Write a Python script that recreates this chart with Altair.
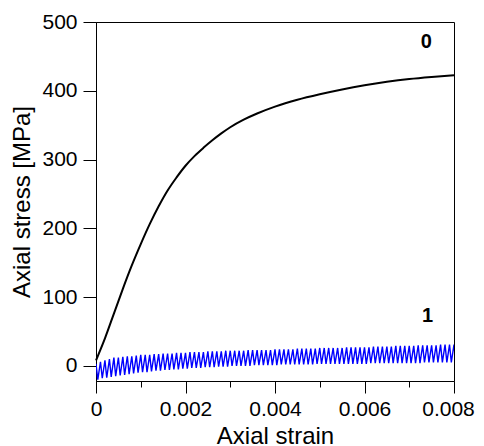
import altair as alt
import pandas as pd

# Monotonic (cycle 0) curve
strain0 = [0, 0.0002, 0.0004, 0.0006, 0.0008, 0.001, 0.0012, 0.0014, 0.0016, 0.0018,
           0.002, 0.0022, 0.0024, 0.0026, 0.0028, 0.003, 0.0033, 0.0036, 0.004, 0.0045,
           0.005, 0.0055, 0.006, 0.0065, 0.007, 0.0075, 0.008]
stress0 = [8, 40, 76, 112, 146, 177, 206, 232, 255, 274,
           291, 305, 317, 328, 338, 347, 358, 367, 377, 387,
           395, 402, 408, 413, 417, 420, 422.5]

# Cyclic curve (1): peak and trough stress of each cycle
cycle_step = 0.0001
peaks = [3, 6, 8, 10, 12, 12, 13, 14, 14, 15,
         16, 16, 16, 17, 17, 18, 18, 18, 19, 19,
         19, 20, 20, 20, 20, 21, 21, 21, 21, 22,
         22, 22, 22, 22, 23, 23, 23, 23, 23, 23,
         24, 24, 24, 24, 24, 25, 25, 25, 25, 25,
         26, 26, 26, 26, 26, 26, 27, 27, 27, 27,
         27, 27, 28, 28, 28, 28, 28, 29, 29, 29,
         29, 29, 30, 30, 30, 30, 30, 31, 31, 31, 31]
troughs = [-20, -18, -17, -16, -15, -14, -13, -12, -11, -10,
           -9, -9, -8, -7, -7, -6, -6, -5, -5, -4,
           -4, -3, -3, -3, -2, -2, -2, -1, -1, -1,
           0, 0, 0, 0, 0, 1, 1, 1, 1, 1,
           1, 2, 2, 2, 2, 2, 2, 2, 2, 3,
           3, 3, 3, 3, 3, 3, 3, 3, 3, 3,
           3, 4, 4, 4, 4, 4, 4, 4, 4, 4,
           4, 4, 4, 5, 5, 5, 5, 5, 5, 5, 5]

labels = ["0", "1"]
label_strain = [0.00738, 0.00741]
label_stress = [471, 72]

x_ticks = [0, 0.001, 0.002, 0.003, 0.004, 0.005, 0.006, 0.007, 0.008]
y_ticks = [0, 50, 100, 150, 200, 250, 300, 350, 400, 450, 500]

df0 = pd.DataFrame({"strain": strain0, "stress": stress0, "order": range(len(strain0))})
rows = []
k = 0
for i, (p, t) in enumerate(zip(peaks, troughs)):
    rows.append({"strain": i * cycle_step, "stress": p, "order": k}); k += 1
    rows.append({"strain": i * cycle_step + 0.00004, "stress": t, "order": k}); k += 1
df1 = pd.DataFrame(rows)
dfl = pd.DataFrame({"label": labels, "strain": label_strain, "stress": label_stress})

FONT = "Liberation Sans"

xscale = alt.Scale(domain=[0, 0.008], nice=False, zero=False)
yscale = alt.Scale(domain=[-22, 500], nice=False, zero=False)

xaxis = alt.Axis(
    values=x_ticks,
    labelExpr="round(datum.value*1000) % 2 != 0 ? '' : (datum.value == 0 ? '0' : format(datum.value, '.3f'))",
    tickSize={"condition": {"test": "round(datum.value*1000) % 2 != 0", "value": 6}, "value": 12},
    labelOffset={"condition": {"test": "datum.value > 0.0075", "value": -6}, "value": 0},
    title="Axial strain",
    titleFont=FONT, titleFontSize=24, titleFontWeight="normal", titleColor="black",
    titleY=62, titleBaseline="alphabetic",
    labelFont=FONT, labelFontSize=21, labelColor="black", labelPadding=5,
    labelOverlap=False, labelFlush=False,
    domainColor="black", tickColor="black", grid=False,
)
yaxis = alt.Axis(
    values=y_ticks,
    labelExpr="datum.value % 100 != 0 ? '' : datum.label",
    tickSize={"condition": {"test": "datum.value % 100 != 0", "value": 7}, "value": 13},
    title="Axial stress [MPa]",
    titleFont=FONT, titleFontSize=24, titleFontWeight="normal", titleColor="black",
    titleX=-67, titleBaseline="alphabetic",
    labelFont=FONT, labelFontSize=21, labelColor="black", labelPadding=6,
    labelOverlap=False, labelFlush=False,
    domainColor="black", tickColor="black", grid=False,
)

line0 = alt.Chart(df0).mark_line(color="black", strokeWidth=2, interpolate="monotone").encode(
    x=alt.X("strain:Q", scale=xscale, axis=xaxis),
    y=alt.Y("stress:Q", scale=yscale, axis=yaxis),
    order="order:Q",
)
line1 = alt.Chart(df1).mark_line(color="#0000FF", strokeWidth=1.4, clip=True).encode(
    x=alt.X("strain:Q", scale=xscale),
    y=alt.Y("stress:Q", scale=yscale),
    order="order:Q",
)
text = alt.Chart(dfl).mark_text(font=FONT, fontSize=20, fontWeight="bold", color="black").encode(
    x=alt.X("strain:Q", scale=xscale),
    y=alt.Y("stress:Q", scale=yscale),
    text="label:N",
)

chart = alt.layer(line0, line1, text).properties(
    width=358, height=359,
    autosize=alt.AutoSizeParams(type="none"),
    padding={"left": 88, "top": 14, "right": 22, "bottom": 66},
    background="white",
).configure_view(stroke="black", strokeWidth=1)

chart.save("out.html", embed_options={"renderer": "svg", "actions": False})
